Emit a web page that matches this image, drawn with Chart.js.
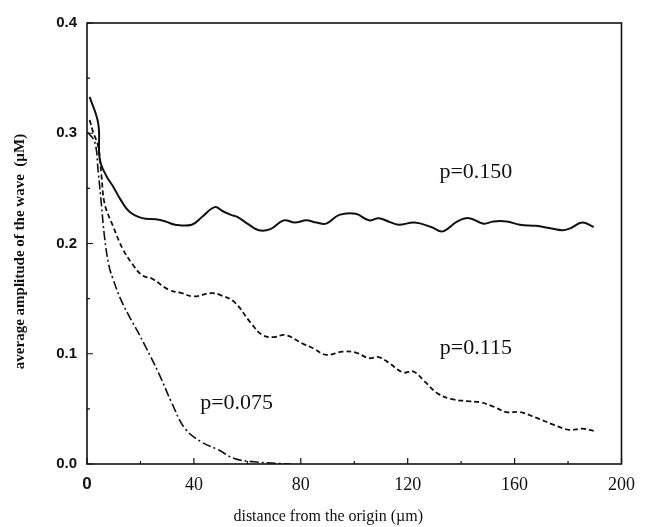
<!DOCTYPE html>
<html>
<head>
<meta charset="utf-8">
<script src="https://cdn.jsdelivr.net/npm/chart.js@4/dist/chart.umd.min.js"></script>
<style>
  html, body { margin: 0; padding: 0; background: #fff; }
  #wrap { width: 645px; height: 527px; }
</style>
</head>
<body>
<div id="wrap"><canvas id="waveChart" width="645" height="527"></canvas></div>
<script>
// distances (um) and amplitudes (uM)
const xSolid = [1, 4.2, 4.8, 7.3, 9.7, 12.5, 15.8, 20.7, 25.7, 29.4, 33, 39.2, 43, 47.8, 51, 53.9, 56.4, 60, 64.3, 68.6, 73.6, 77.8, 82.1, 85.8, 89.5, 94.4, 100.6, 105.5, 109.1, 112.8, 116.5, 122.6, 128.8, 133.1, 138.6, 142.9, 148.4, 152.1, 157, 162, 168, 173, 177.9, 181, 185.3, 189.6];
const ySolid = [0.333, 0.309, 0.276, 0.261, 0.252, 0.240, 0.229, 0.223, 0.222, 0.220, 0.217, 0.217, 0.224, 0.233, 0.229, 0.226, 0.224, 0.218, 0.212, 0.213, 0.221, 0.219, 0.221, 0.219, 0.218, 0.226, 0.227, 0.221, 0.223, 0.220, 0.217, 0.219, 0.215, 0.211, 0.220, 0.223, 0.218, 0.220, 0.220, 0.217, 0.216, 0.214, 0.212, 0.214, 0.219, 0.215];

const xDashed = [1, 2.3, 4.2, 5.4, 6.6, 9.7, 13.4, 17.1, 20.7, 24.4, 30.6, 35.5, 39.8, 46.5, 50.2, 55.1, 61.3, 65.6, 69.9, 74.1, 80.9, 84.6, 89.5, 95.7, 100.6, 105.5, 109.1, 112.8, 118.3, 122, 126.3, 131.2, 136.2, 142.3, 147.2, 152.1, 157, 162, 168, 174.2, 180.4, 185.3, 189.6];
const yDashed = [0.312, 0.301, 0.288, 0.262, 0.236, 0.216, 0.195, 0.181, 0.171, 0.168, 0.158, 0.155, 0.152, 0.155, 0.153, 0.147, 0.128, 0.117, 0.115, 0.117, 0.109, 0.105, 0.099, 0.102, 0.101, 0.096, 0.097, 0.092, 0.083, 0.084, 0.075, 0.064, 0.059, 0.057, 0.056, 0.052, 0.047, 0.047, 0.042, 0.036, 0.031, 0.032, 0.030];

const xDashDot = [0.2, 2.9, 4.2, 5.4, 6.6, 8.2, 9.7, 12.5, 15.8, 19, 22, 26.9, 31.8, 36.7, 42.8, 49, 55.1, 62.5, 71, 76];
const yDashDot = [0.301, 0.292, 0.265, 0.235, 0.205, 0.180, 0.168, 0.150, 0.134, 0.120, 0.106, 0.082, 0.055, 0.032, 0.020, 0.013, 0.005, 0.002, 0.0006, 0];

// curve labels, placed in data units
const curveLabels = ['p=0.150', 'p=0.115', 'p=0.075'];
const labelX = [145.5, 145.5, 56];
const labelY = [0.265, 0.105, 0.055];

const xTicks = [0, 40, 80, 120, 160, 200];
const yTicks = [0.0, 0.1, 0.2, 0.3, 0.4];

const xTitle = 'distance from the origin (\u00b5m)';
const yTitle = 'average amplitude of the wave  (\u00b5M)';

function toPoints(xs, ys) {
    return xs.map((x, i) => ({ x: x, y: ys[i] }));
}

const ink = '#111';

// frame, inward ticks, curve labels and axis titles
const framePlugin = {
    id: 'frame',
    afterDatasetsDraw(chart) {
        const ctx = chart.ctx;
        const area = chart.chartArea;
        const xs = chart.scales.x;
        const ys = chart.scales.y;
        ctx.save();
        ctx.strokeStyle = ink;
        ctx.lineWidth = 1.6;
        ctx.strokeRect(area.left, area.top, area.right - area.left, area.bottom - area.top);

        ctx.lineWidth = 1.2;
        ctx.beginPath();
        for (let v = 0; v <= 200; v += 20) {
            const px = xs.getPixelForValue(v);
            const len = v % 40 === 0 ? 6 : 3;
            ctx.moveTo(px, area.bottom);
            ctx.lineTo(px, area.bottom - len);
        }
        for (let k = 0; k <= 8; k++) {
            const py = ys.getPixelForValue(k * 0.05);
            const len = k % 2 === 0 ? 6 : 3;
            ctx.moveTo(area.left, py);
            ctx.lineTo(area.left + len, py);
        }
        ctx.stroke();

        ctx.fillStyle = ink;
        ctx.textAlign = 'center';
        ctx.textBaseline = 'middle';
        ctx.font = '22px "Liberation Serif", serif';
        curveLabels.forEach((t, i) => {
            ctx.fillText(t, xs.getPixelForValue(labelX[i]), ys.getPixelForValue(labelY[i]));
        });

        ctx.font = '16px "Liberation Serif", serif';
        ctx.fillText(xTitle, (area.left + area.right) / 2 - 26, 517);

        ctx.translate(20, (area.top + area.bottom) / 2 + 8);
        ctx.rotate(-Math.PI / 2);
        ctx.font = 'bold 15px "Liberation Serif", serif';
        ctx.fillText(yTitle, 0, 0);
        ctx.restore();
    }
};

const ctx = document.getElementById('waveChart').getContext('2d');

new Chart(ctx, {
    type: 'line',
    data: {
        datasets: [
            {
                label: 'p=0.150',
                data: toPoints(xSolid, ySolid),
                borderColor: ink,
                borderWidth: 2,
                tension: 0.4
            },
            {
                label: 'p=0.115',
                data: toPoints(xDashed, yDashed),
                borderColor: ink,
                borderWidth: 1.8,
                borderDash: [5, 3],
                tension: 0.4
            },
            {
                label: 'p=0.075',
                data: toPoints(xDashDot, yDashDot),
                borderColor: ink,
                borderWidth: 1.6,
                borderDash: [9, 3, 2, 3],
                tension: 0.4
            }
        ]
    },
    options: {
        responsive: false,
        animation: false,
        layout: {
            padding: { left: 0, top: 23, right: 15, bottom: 0 }
        },
        elements: {
            point: { radius: 0 }
        },
        scales: {
            x: {
                type: 'linear',
                min: 0,
                max: 200,
                afterBuildTicks: (scale) => {
                    scale.ticks = xTicks.map(v => ({ value: v }));
                },
                afterFit: (scale) => { scale.height = 63; },
                grid: { display: false, drawTicks: false },
                border: { display: false },
                ticks: {
                    color: ink,
                    padding: 10,
                    maxRotation: 0,
                    font: (c) => c.tick && c.tick.value === 0
                        ? { family: '"Liberation Sans", sans-serif', size: 17, weight: 'bold' }
                        : { family: '"Liberation Serif", serif', size: 18 }
                }
            },
            y: {
                type: 'linear',
                min: 0,
                max: 0.4,
                afterBuildTicks: (scale) => {
                    scale.ticks = yTicks.map(v => ({ value: v }));
                },
                afterFit: (scale) => { scale.width = 87; },
                grid: { display: false, drawTicks: false },
                border: { display: false },
                ticks: {
                    color: ink,
                    padding: 10,
                    font: { family: '"Liberation Sans", sans-serif', size: 15, weight: 'bold' },
                    callback: (v) => Number(v).toFixed(1)
                }
            }
        },
        plugins: {
            legend: { display: false },
            tooltip: { enabled: false }
        }
    },
    plugins: [framePlugin]
});
</script>
</body>
</html>
